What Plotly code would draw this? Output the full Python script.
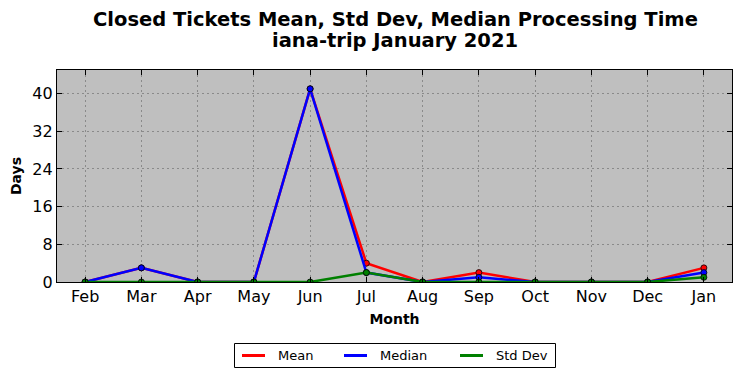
import plotly.graph_objects as go

months = ["Feb", "Mar", "Apr", "May", "Jun", "Jul", "Aug", "Sep", "Oct", "Nov", "Dec", "Jan"]
mean = [0, 3, 0, 0, 41, 4, 0, 2, 0, 0, 0, 3]
median = [0, 3, 0, 0, 41, 2, 0, 1, 0, 0, 0, 2]
std_dev = [0, 0, 0, 0, 0, 2, 0, 0, 0, 0, 0, 1]
yticks = [0, 8, 16, 24, 32, 40]
series = [("Mean", mean, "red"), ("Median", median, "blue"), ("Std Dev", std_dev, "green")]

W, H = 741, 378
L, R, T, B = 57, 9, 70, 96
pw, ph = W - L - R, H - T - B

fig = go.Figure()
for name, vals, col in series:
    fig.add_trace(go.Scatter(
        x=list(range(len(months))), y=vals, name=name, mode="lines+markers",
        line=dict(color=col, width=2.5),
        marker=dict(color=col, size=6, line=dict(color="black", width=0.8)),
        showlegend=False,
    ))

axis_common = dict(
    showline=True, linecolor="black", linewidth=1.2, mirror="ticks",
    ticks="inside", ticklen=5, tickcolor="black",
    showgrid=True, gridcolor="#8a8a8a", griddash="2px,3px", gridwidth=1,
    zeroline=False, tickfont=dict(family="DejaVu Sans", size=16, color="black"),
)

def px_x(p):
    return (p - L) / pw

def px_y(p):
    return (H - B - p) / ph

shapes = []
annotations = []
annotations.append(dict(text="<b>Closed Tickets Mean, Std Dev, Median Processing Time</b>",
                        xref="paper", yref="paper", x=px_x(395), y=px_y(19), xanchor="center", yanchor="middle",
                        showarrow=False, font=dict(family="DejaVu Sans", size=19.5, color="black")))
annotations.append(dict(text="<b>iana-trip January 2021</b>",
                        xref="paper", yref="paper", x=px_x(395), y=px_y(41), xanchor="center", yanchor="middle",
                        showarrow=False, font=dict(family="DejaVu Sans", size=19.5, color="black")))
shapes.append(dict(type="rect", xref="paper", yref="paper", x0=px_x(234.5), x1=px_x(555.5),
                   y0=px_y(343.5), y1=px_y(367.5), line=dict(color="black", width=1), fillcolor="white", layer="above"))
leg_x = [242, 344, 460]
for (name, vals, col), lx in zip(series, leg_x):
    shapes.append(dict(type="line", xref="paper", yref="paper", x0=px_x(lx), x1=px_x(lx + 23),
                       y0=px_y(355.5), y1=px_y(355.5), line=dict(color=col, width=3), layer="above"))
    annotations.append(dict(text=name, xref="paper", yref="paper", x=px_x(lx + 34), y=px_y(355.5),
                            xanchor="left", yanchor="middle", showarrow=False,
                            font=dict(family="DejaVu Sans", size=13, color="black")))

fig.update_layout(
    width=W, height=H,
    margin=dict(l=L, r=R, t=T, b=B, autoexpand=False),
    paper_bgcolor="white", plot_bgcolor="#bfbfbf",
    xaxis=dict(range=[-0.5, 11.5], tickvals=list(range(len(months))), ticktext=months,
               title=dict(text="<b>Month</b>", font=dict(family="DejaVu Sans", size=14, color="black"), standoff=8),
               **axis_common),
    yaxis=dict(range=[0, 45], tickvals=yticks,
               title=dict(text="<b>Days</b>", font=dict(family="DejaVu Sans", size=14, color="black"), standoff=7),
               **axis_common),
    shapes=shapes,
    annotations=annotations,
    showlegend=False,
)

fig.write_html("out.html", config={"displayModeBar": False},
               post_script="document.body.style.margin='0';document.body.style.padding='0';")
